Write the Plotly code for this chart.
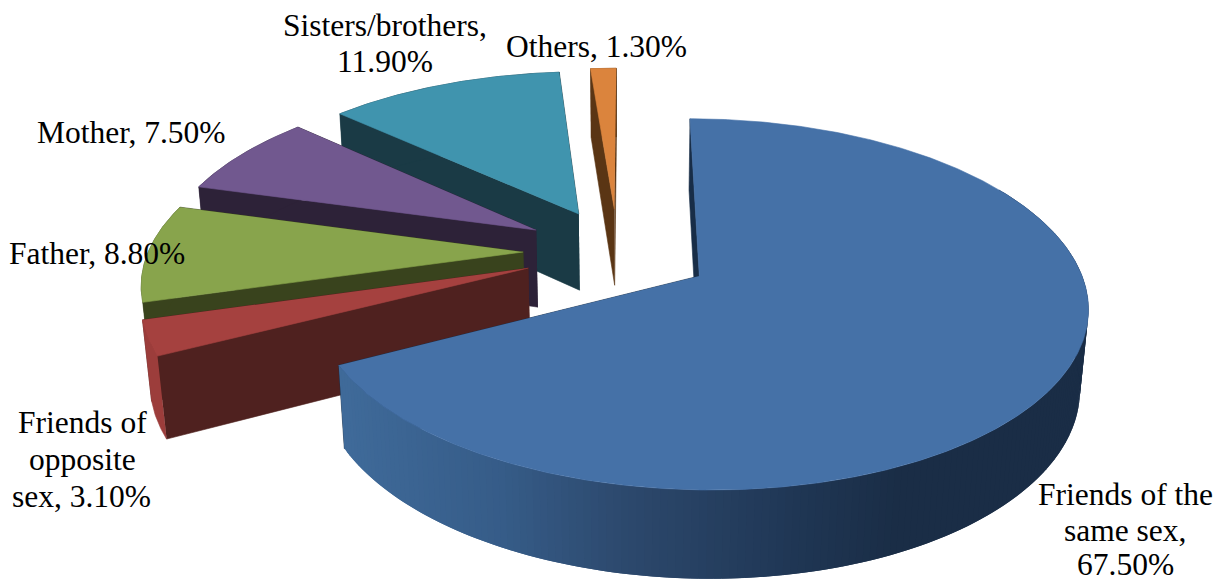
import numpy as np
import plotly.graph_objects as go

# Relationship shares, clockwise from twelve o'clock
categories = ["Friends of the same sex", "Friends of opposite sex", "Father", "Mother", "Sisters/brothers", "Others"]
shares = [67.5, 3.1, 8.8, 7.5, 11.9, 1.3]
label_lines = [
    ["Friends of the", "same sex,", "{v}"],
    ["Friends of", "opposite", "sex, {v}"],
    ["Father, {v}"],
    ["Mother, {v}"],
    ["Sisters/brothers,", "{v}"],
    ["Others, {v}"],
]

# Per-slice styling and explosion
top_colors = ["#4571a7", "#a5413f", "#88a44c", "#71588f", "#4094ae", "#db843d"]
side_colors = ["#182d47", "#4f211f", "#39431d", "#2d2238", "#1a3a45", "#5a3514"]
rim_colors = [None, "#9c3d3b", "#39431d", "#2d2238", "#1a3a45", "#5a3514"]
explode = [0.228, 0.28, 0.282, 0.283, 0.265, 0.258]
explode_dir = [126.3, 251.0, 270.0, 297.0, 328.5, 351.0]
label_pos = [
    [(1125, 494), (1125, 530), (1125, 564)],
    [(82, 422), (82, 459), (81, 496)],
    [(97, 253)],
    [(131, 132)],
    [(385, 25), (385, 61)],
    [(596, 46)],
]
rim_stops = [(345, "#3f6a99"), (500, "#365c88"), (630, "#2c486c"), (800, "#1f3654"), (900, "#1a2d46")]

# Camera model for the tilted disc
CX, CY = 629.0, 252.0
SCALE_X, SCALE_Y = 375.0, 174.0
DEPTH = 0.15
FLOOR_DEPTH = 0.018
THICKNESS = 79.5
FONT_SIZE = 31.5


def project(u, w, level):
    """Project disc coordinates to the canvas; level 1 is the top face, 0 the base."""
    den = 1 - DEPTH * np.asarray(w) + FLOOR_DEPTH * (1 - level)
    return CX + SCALE_X * np.asarray(u) / den, CY + (SCALE_Y * np.asarray(w) + THICKNESS * (1 - level)) / den


def polygon(fig, xs, ys, color, edge=0.6):
    fig.add_trace(go.Scatter(
        x=list(xs), y=list(ys), mode="lines", fill="toself", fillcolor=color,
        line=dict(color=color, width=edge), hoverinfo="skip", showlegend=False,
    ))


def hex_rgb(code):
    return np.array([int(code[i:i + 2], 16) for i in (1, 3, 5)], dtype=float)


def rim_shade(x):
    pos = [s[0] for s in rim_stops]
    rgb = [hex_rgb(s[1]) for s in rim_stops]
    vals = [np.interp(x, pos, [c[k] for c in rgb]) for k in range(3)]
    return "rgb({:.0f},{:.0f},{:.0f})".format(*vals)


fig = go.Figure()
edges = np.concatenate([[0.0], np.cumsum(shares)]) / np.sum(shares) * 360.0

# Painted from the far slice to the near one
for i in [5, 4, 3, 2, 1, 0]:
    a0, a1 = edges[i], edges[i + 1]
    ox = explode[i] * np.sin(np.radians(explode_dir[i]))
    oz = -explode[i] * np.cos(np.radians(explode_dir[i]))
    theta = np.radians(np.linspace(a0, a1, max(int((a1 - a0) * 2), 8)))
    arc_u = ox + np.sin(theta)
    arc_w = oz - np.cos(theta)

    # radial side walls
    for edge in (theta[-1], theta[0]):
        eu, ew = ox + np.sin(edge), oz - np.cos(edge)
        tx, ty = project([ox, eu], [oz, ew], 1)
        bx, by = project([ox, eu], [oz, ew], 0)
        polygon(fig, [tx[0], tx[1], bx[1], bx[0]], [ty[0], ty[1], by[1], by[0]], side_colors[i])

    # curved outer wall
    tx, ty = project(arc_u, arc_w, 1)
    bx, by = project(arc_u, arc_w, 0)
    if rim_colors[i] is None:
        # shaded bands, each reaching under the next so no seams show
        step = 2
        front = np.where(theta >= np.radians(60))[0]
        starts = np.arange(front[0], len(theta) - 1, step)[::-1]
        for k in starts:
            s = max(k - step, 0)
            e = min(k + step, len(theta) - 1)
            polygon(fig, np.r_[tx[s:e + 1], bx[s:e + 1][::-1]], np.r_[ty[s:e + 1], by[s:e + 1][::-1]],
                    rim_shade(tx[min(k + 1, len(theta) - 1)]), edge=0)
    else:
        polygon(fig, np.r_[tx, bx[::-1]], np.r_[ty, by[::-1]], rim_colors[i])

    # top face
    cx0, cy0 = project(ox, oz, 1)
    polygon(fig, np.r_[cx0, tx], np.r_[cy0, ty], top_colors[i])

# Data labels
for value, lines, spots in zip(shares, label_lines, label_pos):
    for line, (lx, ly) in zip(lines, spots):
        fig.add_annotation(
            x=lx, y=ly, text=line.format(v=f"{value:.2f}%"), showarrow=False,
            xanchor="center", yanchor="middle",
            font=dict(family="Liberation Serif", size=FONT_SIZE, color="#000000"),
        )

fig.update_layout(
    width=1227, height=582, margin=dict(l=0, r=0, t=0, b=0),
    paper_bgcolor="white", plot_bgcolor="white", showlegend=False,
    xaxis=dict(range=[0, 1227], visible=False, fixedrange=True),
    yaxis=dict(range=[582, 0], visible=False, fixedrange=True),
)
fig.write_html("out.html")
